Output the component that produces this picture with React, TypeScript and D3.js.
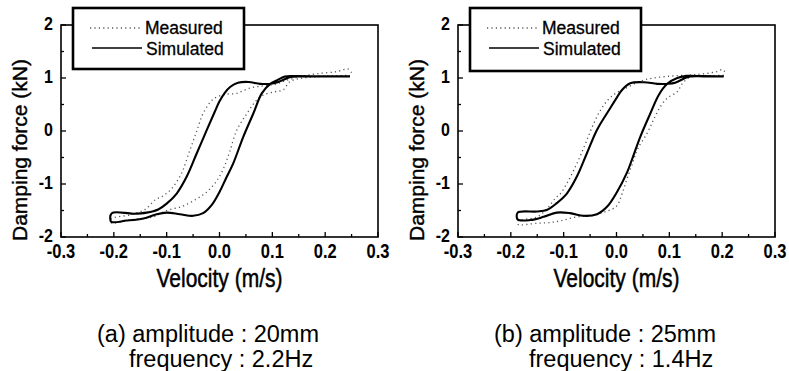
import React from "react";
import * as d3 from "d3";

const xTickValues = [-0.3, -0.2, -0.1, 0.0, 0.1, 0.2, 0.3];
const xTickLabels = ["-0.3", "-0.2", "-0.1", "0.0", "0.1", "0.2", "0.3"];
const yTickValues = [-2, -1, 0, 1, 2];
const yTickLabels = ["-2", "-1", "0", "1", "2"];
const legendLabels = ["Measured", "Simulated"];
const xTitle = "Velocity (m/s)";
const yTitle = "Damping force (kN)";

// Panel (a): amplitude 20mm, frequency 2.2Hz
const aSimulated: [number, number][] = [
  [0.247, 1.03], [0.2, 1.03], [0.15, 1.03], [0.135, 1.02], [0.122, 0.97], [0.11, 0.92], [0.096, 0.89],
  [0.077, 0.89], [0.055, 0.925], [0.035, 0.91], [0.02, 0.83], [0.01, 0.72], [0.0, 0.56], [-0.01, 0.34],
  [-0.024, 0.02], [-0.043, -0.42], [-0.062, -0.86], [-0.081, -1.18], [-0.1, -1.37], [-0.116, -1.48],
  [-0.138, -1.54], [-0.163, -1.56], [-0.204, -1.55],
  [-0.205, -1.71], [-0.176, -1.69], [-0.144, -1.65], [-0.119, -1.57], [-0.1, -1.54], [-0.075, -1.57],
  [-0.05, -1.6], [-0.031, -1.55], [-0.015, -1.4], [0.0, -1.15], [0.012, -0.9], [0.026, -0.61],
  [0.045, -0.11], [0.064, 0.33], [0.08, 0.71], [0.096, 0.89], [0.111, 0.97], [0.124, 1.03],
  [0.146, 1.035], [0.2, 1.03], [0.247, 1.03],
];
const aMeasured: [number, number][] = [
  [0.25, 1.1], [0.243, 1.17], [0.222, 1.12], [0.184, 1.08], [0.15, 1.02], [0.125, 0.95], [0.105, 0.88],
  [0.082, 0.85], [0.057, 0.81], [0.032, 0.71], [0.01, 0.69], [-0.012, 0.6], [-0.031, 0.33], [-0.043, 0.0],
  [-0.056, -0.36], [-0.072, -0.8], [-0.09, -1.08], [-0.106, -1.22], [-0.122, -1.3], [-0.141, -1.48],
  [-0.169, -1.58], [-0.205, -1.66],
  [-0.205, -1.73], [-0.163, -1.67], [-0.125, -1.62], [-0.1, -1.5], [-0.07, -1.42], [-0.043, -1.28],
  [-0.024, -1.15], [-0.006, -0.95], [0.007, -0.72], [0.019, -0.4], [0.032, 0.0], [0.05, 0.3], [0.07, 0.58],
  [0.083, 0.68], [0.105, 0.74], [0.121, 0.78], [0.133, 0.93], [0.152, 0.99], [0.19, 1.03], [0.247, 1.05],
];

// Panel (b): amplitude 25mm, frequency 1.4Hz
const bSimulated: [number, number][] = [
  [0.203, 1.03], [0.16, 1.035], [0.14, 1.03], [0.13, 1.0], [0.111, 0.91], [0.096, 0.89], [0.077, 0.89],
  [0.052, 0.92], [0.026, 0.9], [0.01, 0.77], [0.0, 0.62], [-0.012, 0.43], [-0.037, 0.02], [-0.056, -0.42],
  [-0.075, -0.86], [-0.094, -1.18], [-0.113, -1.36], [-0.132, -1.49], [-0.151, -1.52], [-0.187, -1.54],
  [-0.187, -1.67], [-0.163, -1.68], [-0.138, -1.62], [-0.113, -1.54], [-0.088, -1.55], [-0.062, -1.6],
  [-0.037, -1.57], [-0.018, -1.43], [0.001, -1.15], [0.02, -0.78], [0.03, -0.52], [0.045, -0.11],
  [0.064, 0.33], [0.08, 0.68], [0.096, 0.89], [0.115, 1.0], [0.134, 1.04], [0.17, 1.03], [0.203, 1.03],
];
const bMeasured: [number, number][] = [
  [0.205, 1.12], [0.2, 1.16], [0.19, 1.12], [0.146, 1.06], [0.108, 1.04], [0.07, 1.0], [0.045, 0.94],
  [0.02, 0.82], [0.0, 0.72], [-0.015, 0.6], [-0.031, 0.38], [-0.045, 0.1], [-0.056, -0.17], [-0.069, -0.48],
  [-0.081, -0.74], [-0.094, -0.99], [-0.106, -1.18], [-0.116, -1.27], [-0.13, -1.45], [-0.15, -1.62],
  [-0.187, -1.7],
  [-0.187, -1.76], [-0.15, -1.74], [-0.12, -1.72], [-0.1, -1.68], [-0.075, -1.62], [-0.05, -1.6],
  [-0.02, -1.52], [0.0, -1.42], [0.01, -1.2], [0.02, -0.9], [0.03, -0.62], [0.04, -0.34], [0.058, -0.04],
  [0.07, 0.21], [0.083, 0.46], [0.096, 0.62], [0.115, 0.74], [0.125, 0.9], [0.14, 1.02], [0.17, 1.04],
  [0.205, 1.05],
];

const captionsA = ["(a) amplitude : 20mm", "frequency : 2.2Hz"];
const captionsB = ["(b) amplitude : 25mm", "frequency : 1.4Hz"];

const FONT = "'Liberation Sans', Arial, sans-serif";

type PanelProps = {
  left: number;
  simulated: [number, number][];
  measured: [number, number][];
  captions: string[];
  capX: [number, number];
  legendH: number;
};

function Panel({ left, simulated, measured, captions, capX, legendH }: PanelProps) {
  const top = 25;
  const width = 317;
  const height = 212;
  const x = d3.scaleLinear().domain([-0.3, 0.3]).range([left, left + width]);
  const y = d3.scaleLinear().domain([-2, 2]).range([top + height, top]);
  const line = d3
    .line<[number, number]>()
    .x((d) => x(d[0]))
    .y((d) => y(d[1]))
    .curve(d3.curveCatmullRom.alpha(0.5));
  const xMinor = d3.range(-0.3, 0.3001, 0.05);
  const yMinor = d3.range(-2, 2.001, 0.5);
  const lgX = left + 12;
  return (
    <g>
      <path d={line(measured) || ""} fill="none" stroke="#555" strokeWidth={1.3} strokeDasharray="1.2,3.2" />
      <path d={line(simulated) || ""} fill="none" stroke="#000" strokeWidth={2.1} />
      <rect x={left} y={top} width={width} height={height} fill="none" stroke="#000" strokeWidth={1.6} />
      {xMinor.map((v, i) => (
        <line key={"xm" + i} x1={x(v)} x2={x(v)} y1={top + height} y2={top + height - (i % 2 === 0 ? 5 : 3)} stroke="#000" strokeWidth={1.3} />
      ))}
      {yMinor.map((v, i) => (
        <line key={"ym" + i} x1={left} x2={left + (i % 2 === 0 ? 5 : 3)} y1={y(v)} y2={y(v)} stroke="#000" strokeWidth={1.3} />
      ))}
      {xTickValues.map((v, i) => (
        <text key={"xl" + i} transform={`translate(${x(v)},258) scale(1,1.2)`} textAnchor="middle" fontFamily={FONT} fontWeight="bold" fontSize={16.5}>
          {xTickLabels[i]}
        </text>
      ))}
      {yTickValues.map((v, i) => (
        <text key={"yl" + i} transform={`translate(${left - 8},${y(v) + 5}) scale(1,1.12)`} textAnchor="end" fontFamily={FONT} fontWeight="bold" fontSize={16}>
          {yTickLabels[i]}
        </text>
      ))}
      <text transform={`translate(${x(0)},287) scale(1,1.25)`} textAnchor="middle" fontFamily={FONT} fontSize={21} stroke="#000" strokeWidth={0.4}>
        {xTitle}
      </text>
      <text transform={`translate(${left - 42},150) rotate(-90)`} textAnchor="middle" dominantBaseline="central" fontFamily={FONT} fontSize={21} stroke="#000" strokeWidth={0.4}>
        {yTitle}
      </text>
      <rect x={lgX} y={8} width={171} height={legendH} fill="#fff" stroke="#000" strokeWidth={2.6} />
      <line x1={lgX + 17} x2={lgX + 67} y1={28} y2={28} stroke="#555" strokeWidth={1.3} strokeDasharray="1.2,3.2" />
      <line x1={lgX + 19} x2={lgX + 69} y1={48} y2={48} stroke="#000" strokeWidth={1.6} />
      <text x={lgX + 72} y={34} fontFamily={FONT} fontSize={17.5} stroke="#000" strokeWidth={0.3}>
        {legendLabels[0]}
      </text>
      <text x={lgX + 73} y={55} fontFamily={FONT} fontSize={17.5} stroke="#000" strokeWidth={0.3}>
        {legendLabels[1]}
      </text>
      <text x={capX[0]} y={342} fontFamily={FONT} fontSize={23.5}>
        {captions[0]}
      </text>
      <text x={capX[1]} y={367} fontFamily={FONT} fontSize={23.5}>
        {captions[1]}
      </text>
    </g>
  );
}

export default function App() {
  return (
    <svg width={789} height={371} style={{ position: "absolute", left: 0, top: 0, background: "#fff" }}>
      <rect width={789} height={371} fill="#fff" />
      <Panel left={61} simulated={aSimulated} measured={aMeasured} captions={captionsA} capX={[97, 129]} legendH={61} />
      <Panel left={458} simulated={bSimulated} measured={bMeasured} captions={captionsB} capX={[494, 529]} legendH={63} />
    </svg>
  );
}
